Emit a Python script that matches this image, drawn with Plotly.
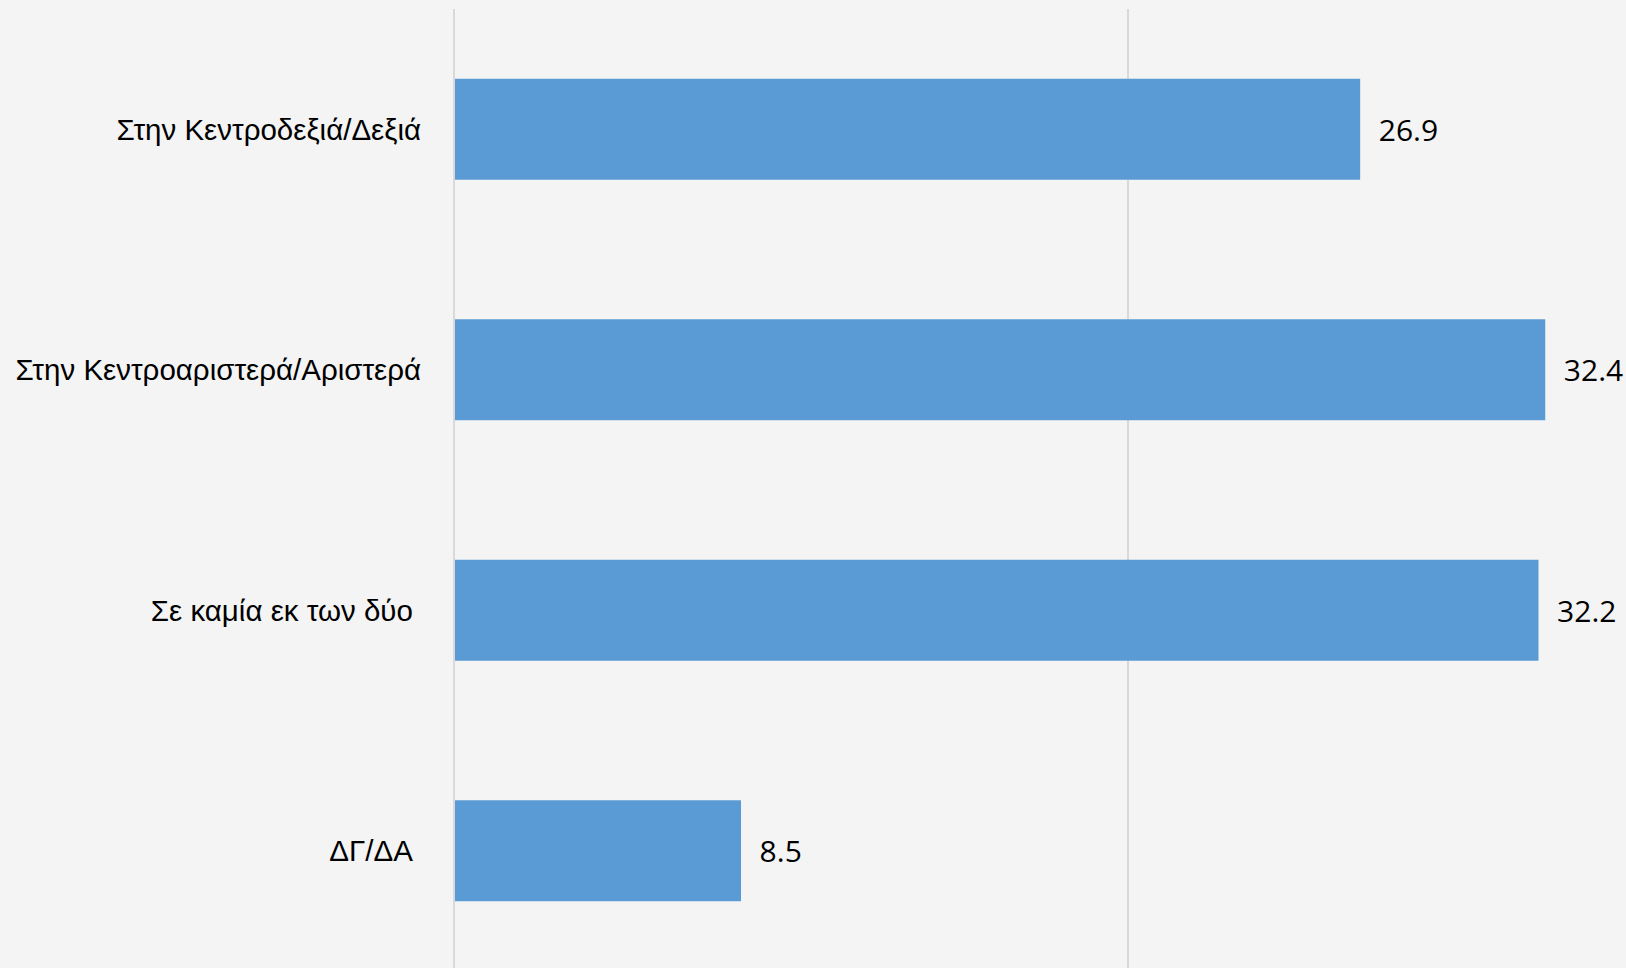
import plotly.graph_objects as go

categories = ["Στην Κεντροδεξιά/Δεξιά", "Στην Κεντροαριστερά/Αριστερά", "Σε καμία εκ των δύο\u00a0", "ΔΓ/ΔΑ\u00a0"]
values = [26.9, 32.4, 32.2, 8.5]
x_ticks = [0, 20, 40]

fig = go.Figure(go.Bar(
    x=values, y=categories, orientation="h",
    marker=dict(color="#5B9BD5", line=dict(width=0)),
    width=0.42,
    text=values, texttemplate="\u00a0\u00a0%{x:.1f}", textposition="outside",
    textfont=dict(family="Open Sans", size=30, color="#000000"),
    cliponaxis=False,
))

fig.update_layout(
    width=1626, height=968,
    paper_bgcolor="#F4F4F4", plot_bgcolor="#F4F4F4",
    margin=dict(l=455, r=0, t=9, b=0),
    showlegend=False,
)
fig.update_xaxes(range=[0, 34.8], tickvals=x_ticks, showticklabels=False,
                 showgrid=True, gridcolor="#D9D9D9", gridwidth=2,
                 zeroline=False, showline=False)
fig.update_yaxes(range=[3.488, -0.5], type="category",
                 tickfont=dict(family="Liberation Sans", size=29.5, color="#000000"),
                 ticklabelstandoff=26, showgrid=False, zeroline=False,
                 showline=True, linecolor="#D9D9D9", linewidth=2)

fig.write_html("out.html", config={"displayModeBar": False},
               post_script="document.body.style.margin='0';document.body.style.background='#F4F4F4';")
